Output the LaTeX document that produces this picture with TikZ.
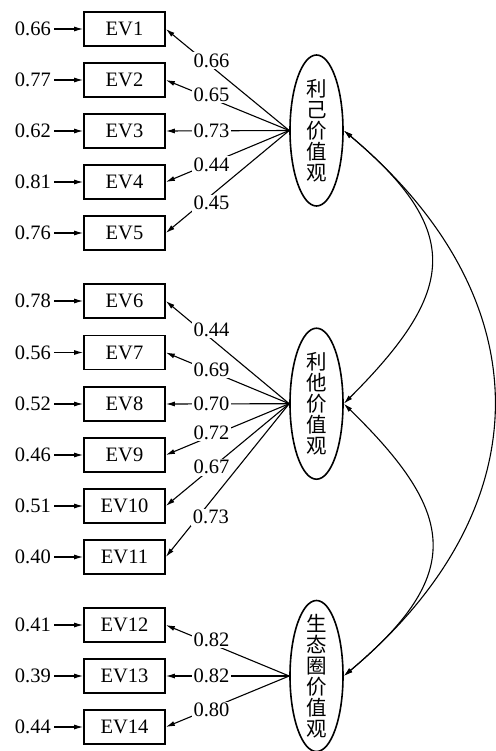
\documentclass[tikz,border=0pt]{standalone}
\usepackage{fontspec}
\setmainfont{Liberation Serif}
\newfontfamily\cjk{Noto Sans CJK SC}
\usetikzlibrary{shapes.geometric,arrows.meta}
\begin{document}
\begin{tikzpicture}[x=1pt,y=1pt,
  txt/.style={font=\fontsize{20.5}{21}\selectfont},
  box/.style={txt,draw,line width=1.6pt,minimum width=81pt,minimum height=34pt,inner sep=0pt},
  lat/.style={draw,ellipse,line width=1.6pt,minimum width=53pt,minimum height=151pt,inner sep=0pt},
  lattext/.style={align=center,inner sep=0pt,font=\cjk\fontsize{20.5}{21}\selectfont},
  err/.style={txt,anchor=east,inner sep=0pt},
  lbl/.style={txt,fill=white,inner sep=1.5pt},
  tip/.style={-{Latex[length=9pt,width=5pt]},line width=1.1pt},
  cov/.style={{Latex[length=9pt,width=5pt]}-{Latex[length=9pt,width=5pt]},line width=1.1pt}
]
\useasboundingbox (0,0) rectangle (495,-751);

% observed variables
\node[box] (ev1)  at (124.5,-29)   {EV1};
\node[box] (ev2)  at (124.5,-80)   {EV2};
\node[box] (ev3)  at (124.5,-131)  {EV3};
\node[box] (ev4)  at (124.5,-182)  {EV4};
\node[box] (ev5)  at (124.5,-233)  {EV5};
\node[box] (ev6)  at (124.5,-301)  {EV6};
\node[box] (ev7)  at (124.5,-352.5){EV7};
\node[box] (ev8)  at (124.5,-404)  {EV8};
\node[box] (ev9)  at (124.5,-455)  {EV9};
\node[box] (ev10) at (124.5,-506)  {EV10};
\node[box] (ev11) at (124.5,-557)  {EV11};
\node[box] (ev12) at (124.5,-625)  {EV12};
\node[box] (ev13) at (124.5,-676)  {EV13};
\node[box] (ev14) at (124.5,-727)  {EV14};

% error terms
\node[err] (r1)  at (51,-29)    {0.66};
\node[err] (r2)  at (51,-80)    {0.77};
\node[err] (r3)  at (51,-131)   {0.62};
\node[err] (r4)  at (51,-182)   {0.81};
\node[err] (r5)  at (51,-233)   {0.76};
\node[err] (r6)  at (51,-301)   {0.78};
\node[err] (r7)  at (51,-352.5) {0.56};
\node[err] (r8)  at (51,-404)   {0.52};
\node[err] (r9)  at (51,-455)   {0.46};
\node[err] (r10) at (51,-506)   {0.51};
\node[err] (r11) at (51,-557)   {0.40};
\node[err] (r12) at (51,-625)   {0.41};
\node[err] (r13) at (51,-676)   {0.39};
\node[err] (r14) at (51,-727)   {0.44};
\foreach \i in {1,...,14}{
  \draw[tip] ([xshift=3pt]r\i.east) -- (ev\i.west);
}

% latent variables
\node[lat] (e1) at (316.5,-130.5) {};
\node[lattext] (t1) at (e1) {利\\己\\价\\值\\观};
\node[lat] (e2) at (316.5,-403.7) {};
\node[lattext] (t2) at (e2) {利\\他\\价\\值\\观};
\node[lat] (e3) at (316.5,-676) {};
\node[lattext] (t3) at (e3) {生\\态\\圈\\价\\值\\观};

% loadings
\draw[tip] (e1.west) -- (ev1.east) node[lbl,pos=0.63,yshift=6pt] {0.66};
\draw[tip] (e1.west) -- (ev2.east) node[lbl,pos=0.63,yshift=4pt] {0.65};
\draw[tip] (e1.west) -- (ev3.east) node[lbl,pos=0.63] {0.73};
\draw[tip] (e1.west) -- (ev4.east) node[lbl,pos=0.63,yshift=-2pt] {0.44};
\draw[tip] (e1.west) -- (ev5.east) node[lbl,pos=0.63,yshift=-8pt] {0.45};

\draw[tip] (e2.west) -- (ev6.east)  node[lbl,pos=0.63,yshift=9pt] {0.44};
\draw[tip] (e2.west) -- (ev7.east)  node[lbl,pos=0.63,yshift=1.5pt] {0.69};
\draw[tip] (e2.west) -- (ev8.east)  node[lbl,pos=0.63] {0.70};
\draw[tip] (e2.west) -- (ev9.east)  node[lbl,pos=0.63,yshift=3pt] {0.72};
\draw[tip] (e2.west) -- (ev10.east) node[lbl,pos=0.63,yshift=1pt] {0.67};
\draw[tip] (e2.west) -- (ev11.east) node[lbl,pos=0.74,xshift=13pt] {0.73};

\draw[tip] (e3.west) -- (ev12.east) node[lbl,pos=0.63,yshift=4pt] {0.82};
\draw[tip] (e3.west) -- (ev13.east) node[lbl,pos=0.63] {0.82};
\draw[tip] (e3.west) -- (ev14.east) node[lbl,pos=0.63,yshift=-2pt] {0.80};

% covariances
\draw[cov] (e1.east) .. controls +(121,-101.6) and +(111.7,111.7) .. (e2.east);
\draw[cov] (e2.east) .. controls +(113,-110) and +(121,101.6) .. (e3.east);
\draw[cov] (e1.east) .. controls +(200,-168) and +(200,168) .. (e3.east);
\end{tikzpicture}
\end{document}
